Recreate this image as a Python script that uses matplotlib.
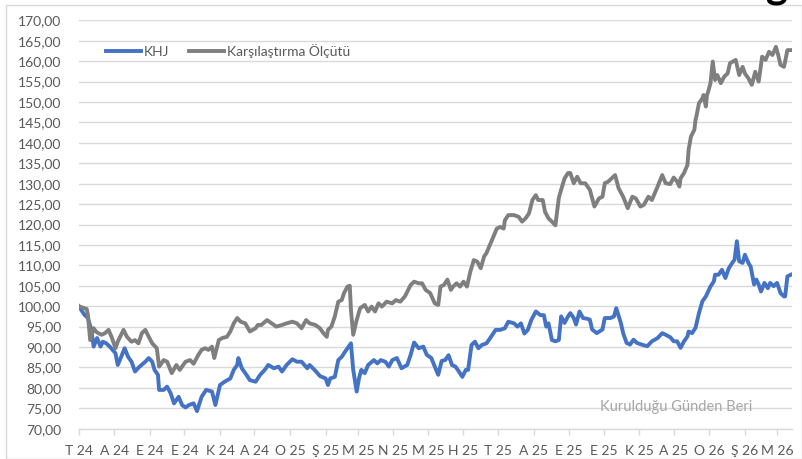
import matplotlib
matplotlib.use("Agg")
import matplotlib.pyplot as plt
import pandas as pd
from matplotlib.patches import Rectangle

plt.rcParams['font.family'] = ['Lato', 'DejaVu Sans']

start_date = "2024-07-01"

# days since inception / values
bench_days = [0, 7, 8, 10, 13, 15, 17, 20, 23, 26, 29, 32, 34, 39, 42, 46, 49, 52, 55, 58,
              61, 64, 68, 70, 74, 77, 81, 85, 88, 93, 97, 100, 104, 107, 110, 113, 116, 118, 122, 125,
              129, 132, 135, 138, 141, 145, 149, 154, 156, 159, 164, 168, 172, 177, 181, 186, 190, 194, 198, 201,
              206, 210, 213, 216, 217, 220, 223, 226, 229, 231, 234, 236, 237, 239, 242, 245, 249, 252, 255, 258,
              261, 264, 268, 273, 276, 280, 284, 289, 292, 296, 299, 302, 306, 310, 313, 315, 318, 321, 324, 326,
              329, 332, 335, 338, 341, 344, 347, 350, 353, 355, 358, 361, 364, 367, 370, 371, 374, 379, 383, 386,
              389, 392, 395, 398, 400, 404, 406, 409, 412, 415, 418, 420, 423, 426, 428, 431, 434, 437, 441, 445,
              449, 453, 456, 458, 461, 464, 467, 470, 474, 478, 482, 485, 489, 492, 496, 499, 504, 508, 511, 515,
              518, 521, 523, 524, 527, 530, 531, 533, 536, 537, 538, 540, 541, 543, 544, 546, 547, 548, 550, 552,
              554, 556, 559, 562, 565, 567, 572, 575, 578, 580, 583, 586, 589, 592, 595, 598, 601, 604, 607, 609,
              611, 614, 615, 617, 620]
bench_vals = [100.0, 99.3, 97.9, 91.7, 94.6, 93.8, 93.4, 93.0, 93.4, 94.2, 92.2, 89.7, 91.3, 94.2, 92.5, 91.3, 91.7, 90.9, 93.4, 94.2,
              92.5, 90.9, 89.7, 85.2, 86.8, 86.4, 83.6, 85.6, 84.4, 86.4, 86.8, 85.9, 88.0, 89.3, 89.7, 89.3, 90.1, 87.3, 91.7, 92.2,
              92.5, 93.8, 95.8, 97.1, 96.2, 95.8, 93.8, 94.6, 95.4, 95.4, 96.6, 95.8, 95.0, 95.4, 95.8, 96.2, 95.8, 94.6, 96.6, 95.8,
              95.4, 94.6, 93.4, 92.5, 94.2, 95.0, 97.5, 101.1, 101.5, 103.2, 104.8, 105.0, 99.1, 93.0, 96.6, 99.5, 100.3, 98.7, 99.9, 98.7,
              100.7, 99.9, 101.1, 100.7, 101.5, 101.1, 102.4, 105.2, 106.0, 105.6, 105.6, 104.0, 103.2, 100.7, 100.3, 104.8, 105.2, 106.5, 104.0, 104.8,
              105.6, 104.8, 106.0, 104.8, 108.5, 111.3, 110.9, 109.3, 112.2, 113.0, 115.0, 117.0, 119.0, 119.4, 119.0, 121.0, 122.3, 122.3, 121.9, 120.7,
              121.5, 122.7, 126.0, 127.2, 126.0, 126.0, 123.1, 121.5, 120.7, 119.8, 126.5, 128.5, 131.3, 132.6, 132.6, 130.1, 131.7, 130.1, 130.1, 128.5,
              124.4, 126.4, 126.8, 130.1, 130.5, 131.3, 132.1, 128.9, 126.8, 124.0, 126.8, 126.4, 124.4, 124.8, 126.8, 126.0, 129.3, 132.1, 130.1, 129.9,
              131.5, 130.5, 129.3, 131.3, 132.6, 134.6, 138.3, 141.5, 143.2, 145.6, 146.8, 149.7, 150.1, 150.9, 151.7, 148.9, 151.7, 152.5, 154.6, 159.9,
              155.4, 156.6, 154.6, 156.2, 157.0, 159.5, 160.3, 156.6, 158.6, 157.0, 155.8, 154.2, 157.4, 155.0, 161.1, 160.3, 162.3, 161.5, 163.5, 161.5,
              159.1, 158.6, 159.9, 162.7, 162.7]

fund_days = [0, 5, 8, 11, 13, 16, 19, 21, 24, 27, 32, 34, 37, 40, 43, 46, 49, 53, 58, 61,
             64, 66, 69, 70, 74, 77, 80, 83, 87, 90, 93, 96, 100, 103, 107, 111, 116, 119, 123, 127,
             132, 135, 138, 139, 142, 146, 149, 154, 158, 162, 165, 170, 174, 177, 181, 186, 190, 194, 199, 201,
             206, 210, 215, 217, 219, 223, 226, 229, 232, 235, 237, 239, 242, 244, 246, 249, 252, 257, 260, 263,
             267, 270, 273, 277, 281, 286, 289, 292, 296, 300, 303, 307, 310, 313, 316, 319, 322, 325, 328, 331,
             334, 337, 339, 342, 345, 348, 351, 355, 358, 363, 367, 371, 374, 379, 382, 385, 388, 391, 394, 398,
             402, 405, 407, 409, 412, 415, 418, 420, 423, 426, 428, 431, 433, 436, 439, 443, 445, 447, 451, 456,
             458, 463, 466, 468, 472, 474, 477, 480, 483, 486, 490, 495, 499, 504, 508, 511, 515, 518, 521, 524,
             527, 530, 531, 534, 537, 540, 543, 546, 548, 550, 553, 554, 557, 560, 563, 566, 569, 571, 573, 575,
             578, 580, 583, 585, 588, 590, 592, 594, 597, 600, 602, 605, 608, 611, 614, 615, 617, 620]
fund_vals = [100.0, 97.9, 97.1, 94.2, 90.1, 92.2, 90.1, 91.3, 90.9, 90.1, 88.5, 85.6, 87.6, 89.7, 87.6, 86.4, 84.0, 85.2, 86.4, 87.3,
             86.4, 84.4, 83.2, 79.5, 79.5, 80.3, 78.7, 76.2, 77.8, 75.8, 75.2, 75.8, 76.2, 74.3, 77.8, 79.5, 79.1, 75.8, 80.7, 81.5,
             82.3, 84.4, 85.6, 87.3, 84.8, 83.2, 81.9, 81.5, 83.2, 84.4, 85.6, 84.8, 85.2, 84.0, 85.6, 87.0, 86.4, 86.4, 84.8, 85.6,
             84.2, 82.9, 82.3, 80.7, 82.3, 82.7, 86.8, 87.6, 88.9, 90.1, 90.9, 84.4, 79.1, 82.3, 84.4, 83.6, 85.6, 86.8, 86.0, 86.8,
             86.4, 85.2, 86.8, 87.3, 84.8, 85.6, 88.1, 91.1, 89.7, 90.1, 88.1, 87.3, 85.2, 83.2, 86.6, 86.8, 88.0, 85.6, 85.2, 84.0,
             82.7, 84.4, 84.4, 90.5, 91.3, 89.7, 90.5, 90.9, 92.1, 94.2, 94.2, 94.6, 96.2, 95.8, 95.0, 95.8, 93.3, 94.2, 96.6, 98.7,
             97.8, 97.8, 95.0, 95.8, 91.7, 91.4, 91.7, 97.5, 95.9, 97.5, 98.3, 97.1, 95.5, 98.7, 97.1, 96.9, 96.7, 94.3, 93.4, 94.3,
             97.1, 97.1, 97.5, 99.5, 95.9, 93.4, 91.0, 90.6, 91.8, 91.0, 90.6, 90.2, 91.4, 92.2, 93.4, 93.0, 92.4, 91.4, 91.4, 89.8,
             91.4, 92.6, 93.8, 93.4, 94.7, 98.3, 101.2, 102.4, 103.6, 104.8, 106.1, 107.7, 107.7, 108.9, 106.9, 109.3, 110.6, 111.4, 115.9, 111.0,
             110.6, 112.6, 110.6, 109.7, 105.3, 106.5, 105.3, 103.6, 105.7, 104.4, 105.7, 104.9, 105.7, 103.2, 102.4, 102.4, 107.3, 107.7]

tick_labels = ["T 24", "A 24", "E 24", "E 24", "K 24", "A 24", "O 25", "Ş 25", "M 25", "N 25", "M 25",
               "H 25", "T 25", "A 25", "E 25", "E 25", "K 25", "A 25", "O 26", "Ş 26", "M 26"]
series_names = ["KHJ", "Karşılaştırma Ölçütü"]
note_text = "Kurulduğu Günden Beri"

t0 = pd.Timestamp(start_date)
bench_dates = t0 + pd.to_timedelta(bench_days, unit="D")
fund_dates = t0 + pd.to_timedelta(fund_days, unit="D")
tick_dates = pd.date_range(t0, periods=len(tick_labels), freq="MS")

W, H = 802, 459
fig = plt.figure(figsize=(W / 100, H / 100), dpi=100)
ax = fig.add_axes([78.7 / W, 1 - 428.7 / H, (792 - 78.7) / W, (428.7 - 20.3) / H])

blue = "#4472C4"
grey = "#7F7F7F"
ax.plot(fund_dates, fund_vals, color=blue, lw=2.8, solid_joinstyle="round", label=series_names[0], zorder=3)
ax.plot(bench_dates, bench_vals, color=grey, lw=2.8, solid_joinstyle="round", label=series_names[1], zorder=3)

ax.set_xlim(t0, t0 + pd.Timedelta(days=621))
ax.set_ylim(70, 170)
ax.set_yticks(range(70, 171, 5))
ax.set_yticklabels([f"{v},00" for v in range(70, 171, 5)])
ax.set_xticks(tick_dates)
ax.set_xticklabels(tick_labels)

ax.grid(axis="y", color="#D9D9D9", lw=1)
ax.set_axisbelow(True)
for s in ["top", "right", "left"]:
    ax.spines[s].set_visible(False)
ax.spines["bottom"].set_color("#D9D9D9")
ax.spines["bottom"].set_linewidth(1)
ax.tick_params(axis="y", length=0, pad=12.5, labelsize=10, labelcolor="#595959")
ax.tick_params(axis="x", length=4, width=1, color="#D9D9D9", pad=8, labelsize=10, labelcolor="#595959")

leg = ax.legend(loc="center left", bbox_to_anchor=(0.038, 0.925), frameon=False, ncol=2,
                fontsize=10, handlelength=2.55, handletextpad=0.2, columnspacing=1.4,
                borderpad=0, borderaxespad=0)
for t in leg.get_texts():
    t.set_color("#595959")

ax.text(0.838, 0.052, note_text, transform=ax.transAxes, ha="center", va="center",
        fontsize=10.5, color="#A6A6A6")

fig.patches.append(Rectangle((6 / W, 0), 1 - 6 / W, 1 - 5 / H, transform=fig.transFigure,
                             fill=False, edgecolor="#D9D9D9", lw=1))
fig.text(777 / W, 1 - 5 / H, "g", fontsize=30, fontweight="bold", color="black",
         ha="center", va="bottom")

fig.savefig("out.png", dpi=100)
